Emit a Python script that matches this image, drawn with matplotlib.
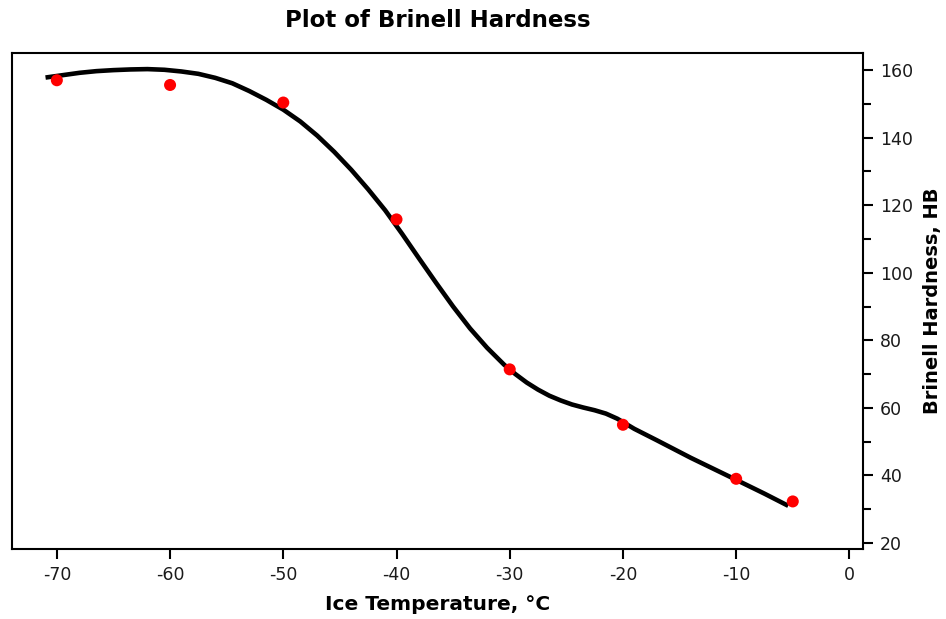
import numpy as np
import matplotlib.pyplot as plt
from matplotlib.ticker import MultipleLocator

# measured points (ice temperature in C, Brinell hardness HB)
temp = [-70, -60, -50, -40, -30, -20, -10, -5]
hb = [157.0, 155.6, 150.4, 115.8, 71.4, 55.0, 39.0, 32.3]

# fitted curve
fit_t = [-71.0, -69.5, -68.0, -66.5, -65.0, -63.5, -62.0, -60.5, -59.0, -57.5,
         -56.0, -54.5, -53.0, -51.5, -50.0, -48.5, -47.0, -45.5, -44.0, -42.5,
         -41.0, -39.5, -38.0, -36.5, -35.0, -33.5, -32.0, -30.5, -29.5, -28.5,
         -27.5, -26.5, -25.5, -24.5, -23.5, -22.5, -21.5, -20.5, -19.0, -17.0,
         -14.0, -10.0, -7.5, -5.4]
fit_hb = [157.8, 158.5, 159.2, 159.7, 160.0, 160.2, 160.3, 160.1, 159.6, 158.9,
          157.7, 156.1, 153.8, 151.2, 148.3, 144.8, 140.6, 135.8, 130.5, 124.7,
          118.5, 111.5, 104.2, 97.0, 90.0, 83.5, 77.8, 72.8, 70.0, 67.5,
          65.4, 63.6, 62.2, 61.0, 60.1, 59.3, 58.3, 56.8, 53.8, 50.4,
          45.2, 38.7, 34.6, 31.0]

plt.rcParams["font.family"] = "DejaVu Sans"
plt.rcParams["axes.unicode_minus"] = False

fig = plt.figure(figsize=(9.46, 6.19), dpi=100)
ax = fig.add_axes([0.0127, 0.113, 0.9, 0.801])

ax.plot(fit_t, fit_hb, color="black", lw=3.3, solid_capstyle="butt", solid_joinstyle="round", zorder=2)
ax.scatter(temp, hb, s=75, color="#ff0000", edgecolors="none", zorder=3)

ax.set_xlim(-73.96, 1.24)
ax.set_ylim(18.2, 165)
ax.xaxis.set_major_locator(MultipleLocator(10))
ax.yaxis.set_major_locator(MultipleLocator(20))
ax.yaxis.set_minor_locator(MultipleLocator(10))
ax.yaxis.tick_right()
ax.yaxis.set_label_position("right")

for s in ax.spines.values():
    s.set_linewidth(1.5)
ax.tick_params(axis="both", which="major", direction="out", length=7, width=1.5,
               labelsize=12.5, pad=5, colors="black", labelcolor="#1a1a1a")
ax.tick_params(axis="y", which="minor", direction="out", length=6, width=1.5)

ax.set_title("Plot of Brinell Hardness", fontsize=16.5, fontweight="bold", pad=19)
ax.set_xlabel("Ice Temperature, \u00b0C", fontsize=14.5, fontweight="bold", labelpad=8)
ax.set_ylabel("Brinell Hardness, HB", fontsize=14, fontweight="bold", labelpad=7)

fig.savefig("out.png", dpi=100)
